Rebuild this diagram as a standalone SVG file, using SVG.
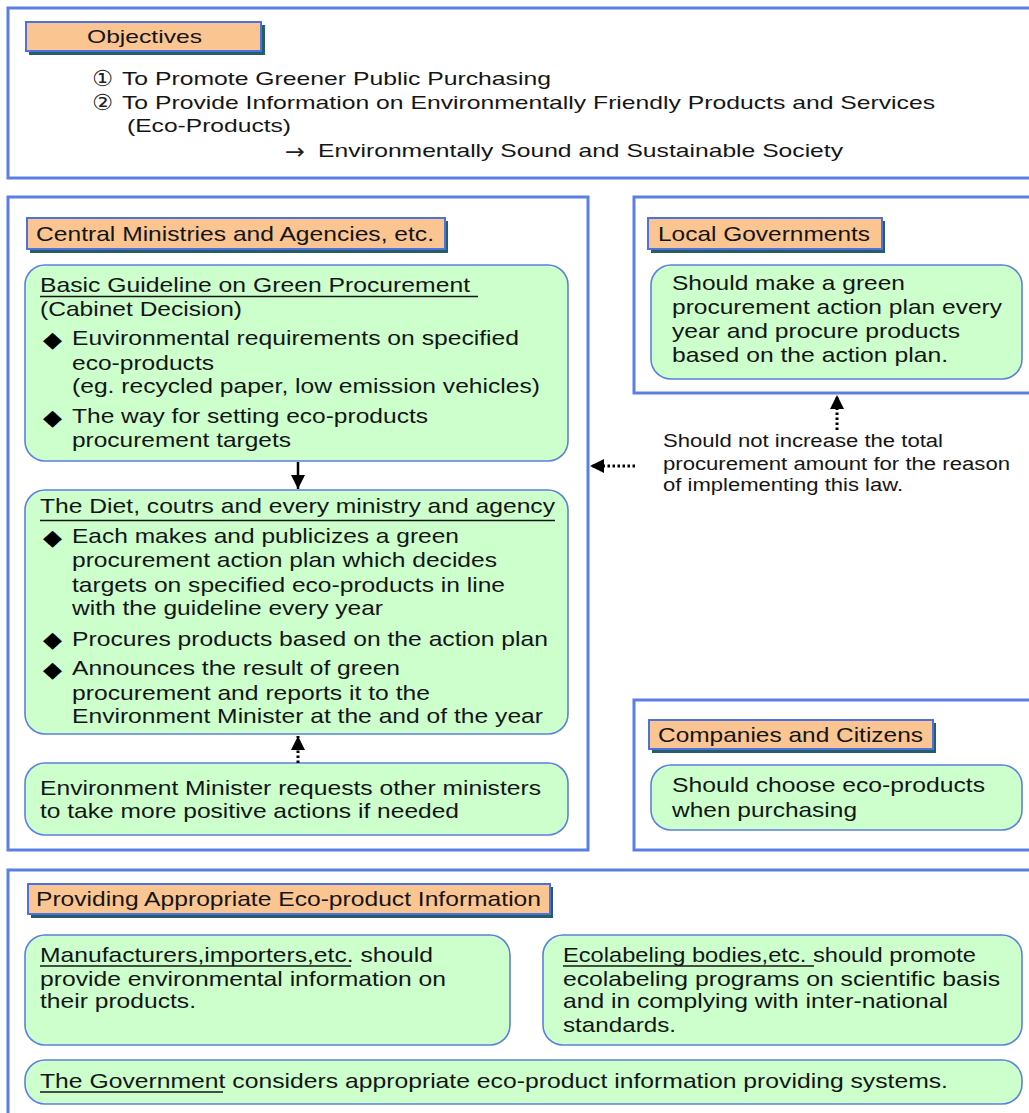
<svg xmlns="http://www.w3.org/2000/svg" width="1029" height="1113" viewBox="0 0 1029 1113">
<style>
.outer{fill:#fff;stroke:#5a7ee6;stroke-width:3}
.green{fill:#ccffcc;stroke:#5b80e2;stroke-width:1.6}
.lab{fill:#fbc591;stroke:#4d72e0;stroke-width:2}
.shadow{fill:#245f68}
.t{font-family:"Liberation Sans",Arial,sans-serif;font-size:21px;fill:#151515}
.s{font-size:18px}
.o{font-size:19px}
.c{font-family:"DejaVu Sans",sans-serif;font-size:22px;fill:#222}
.b{font-family:"DejaVu Sans",sans-serif;font-size:22px;fill:#000}
.ul{stroke:#151515;stroke-width:1.6}
.conn{stroke:#000;stroke-width:2.5;fill:none}
.dot{stroke:#000;stroke-width:3;fill:none;stroke-dasharray:2.5 2.5}
</style>
<defs>
<marker id="ah" markerUnits="userSpaceOnUse" markerWidth="16" markerHeight="16" refX="14" refY="7" orient="auto">
<path d="M0,0 L14,7 L0,14 Z" fill="#000"/>
</marker>
</defs>

<g id="objectives">
<rect class="outer" x="8" y="8" width="1030" height="170"/>
<rect class="shadow" x="29" y="25" width="236" height="30"/>
<rect class="lab" x="26" y="22" width="235" height="29"/>
<text class="t o" x="87" y="43" textLength="115" lengthAdjust="spacingAndGlyphs">Objectives</text>
<text class="c" x="92" y="86" textLength="21" lengthAdjust="spacingAndGlyphs">①</text>
<text class="t o" x="122" y="85" textLength="429" lengthAdjust="spacingAndGlyphs">To Promote Greener Public Purchasing</text>
<text class="c" x="92" y="110" textLength="21" lengthAdjust="spacingAndGlyphs">②</text>
<text class="t o" x="122" y="109" textLength="813" lengthAdjust="spacingAndGlyphs">To Provide Information on Environmentally Friendly Products and Services</text>
<text class="t o" x="127" y="132" textLength="164" lengthAdjust="spacingAndGlyphs">(Eco-Products)</text>
<text class="c" x="285" y="159" textLength="20" lengthAdjust="spacingAndGlyphs" fill="#555">→</text>
<text class="t o" x="318" y="157" textLength="525" lengthAdjust="spacingAndGlyphs">Environmentally Sound and Sustainable Society</text>
</g>

<g id="central">
<rect class="outer" x="8" y="197" width="580" height="653"/>
<rect class="shadow" x="30" y="221" width="418" height="32"/>
<rect class="lab" x="27" y="218" width="418" height="31"/>
<text class="t" x="36" y="241" textLength="398" lengthAdjust="spacingAndGlyphs">Central Ministries and Agencies, etc.</text>
</g>

<g id="guideline">
<rect class="green" x="25" y="265" width="543" height="196" rx="20"/>
<text class="t" x="40" y="292" textLength="430" lengthAdjust="spacingAndGlyphs">Basic Guideline on Green Procurement</text>
<line class="ul" x1="40" y1="296.5" x2="478" y2="296.5"/>
<text class="t" x="40" y="316" textLength="202" lengthAdjust="spacingAndGlyphs">(Cabinet Decision)</text>
<text class="b" x="43" y="347" textLength="19" lengthAdjust="spacingAndGlyphs">◆</text>
<text class="t" x="72" y="345" textLength="447" lengthAdjust="spacingAndGlyphs">Euvironmental requirements on specified</text>
<text class="t" x="72" y="370" textLength="142" lengthAdjust="spacingAndGlyphs">eco-products</text>
<text class="t" x="72" y="393" textLength="468" lengthAdjust="spacingAndGlyphs">(eg. recycled paper, low emission vehicles)</text>
<text class="b" x="43" y="425" textLength="19" lengthAdjust="spacingAndGlyphs">◆</text>
<text class="t" x="72" y="423" textLength="356" lengthAdjust="spacingAndGlyphs">The way for setting eco-products</text>
<text class="t" x="72" y="447" textLength="219" lengthAdjust="spacingAndGlyphs">procurement targets</text>
</g>

<g id="diet">
<rect class="green" x="25" y="490" width="543" height="244" rx="20"/>
<text class="t" x="40" y="513" textLength="515" lengthAdjust="spacingAndGlyphs">The Diet, coutrs and every ministry and agency</text>
<line class="ul" x1="40" y1="520.5" x2="555" y2="520.5"/>
<text class="b" x="43" y="545" textLength="19" lengthAdjust="spacingAndGlyphs">◆</text>
<text class="t" x="72" y="543" textLength="387" lengthAdjust="spacingAndGlyphs">Each makes and publicizes a green</text>
<text class="t" x="72" y="567" textLength="425" lengthAdjust="spacingAndGlyphs">procurement action plan which decides</text>
<text class="t" x="72" y="592" textLength="433" lengthAdjust="spacingAndGlyphs">targets on specified eco-products in line</text>
<text class="t" x="72" y="615" textLength="311" lengthAdjust="spacingAndGlyphs">with the guideline every year</text>
<text class="b" x="43" y="647" textLength="19" lengthAdjust="spacingAndGlyphs">◆</text>
<text class="t" x="72" y="646" textLength="476" lengthAdjust="spacingAndGlyphs">Procures products based on the action plan</text>
<text class="b" x="43" y="677" textLength="19" lengthAdjust="spacingAndGlyphs">◆</text>
<text class="t" x="72" y="675" textLength="328" lengthAdjust="spacingAndGlyphs">Announces the result of green</text>
<text class="t" x="72" y="700" textLength="358" lengthAdjust="spacingAndGlyphs">procurement and reports it to the</text>
<text class="t" x="72" y="723" textLength="471" lengthAdjust="spacingAndGlyphs">Environment Minister at the and of the year</text>
</g>

<g id="minister">
<rect class="green" x="25" y="763" width="543" height="72" rx="20"/>
<text class="t" x="40" y="795" textLength="501" lengthAdjust="spacingAndGlyphs">Environment Minister requests other ministers</text>
<text class="t" x="40" y="818" textLength="419" lengthAdjust="spacingAndGlyphs">to take more positive actions if needed</text>
</g>

<g id="local">
<rect class="outer" x="634" y="197" width="400" height="196"/>
<rect class="shadow" x="651" y="221" width="234" height="32"/>
<rect class="lab" x="648" y="218" width="234" height="31"/>
<text class="t" x="658" y="241" textLength="212" lengthAdjust="spacingAndGlyphs">Local Governments</text>
<rect class="green" x="651" y="265" width="371" height="114" rx="20"/>
<text class="t" x="672" y="290" textLength="233" lengthAdjust="spacingAndGlyphs">Should make a green</text>
<text class="t" x="672" y="314" textLength="330" lengthAdjust="spacingAndGlyphs">procurement action plan every</text>
<text class="t" x="672" y="338" textLength="288" lengthAdjust="spacingAndGlyphs">year and procure products</text>
<text class="t" x="672" y="362" textLength="276" lengthAdjust="spacingAndGlyphs">based on the action plan.</text>
</g>

<g id="note">
<text class="t s" x="663" y="447" textLength="280" lengthAdjust="spacingAndGlyphs">Should not increase the total</text>
<text class="t s" x="663" y="470" textLength="347" lengthAdjust="spacingAndGlyphs">procurement amount for the reason</text>
<text class="t s" x="663" y="491" textLength="240" lengthAdjust="spacingAndGlyphs">of implementing this law.</text>
</g>

<g id="companies">
<rect class="outer" x="634" y="700" width="400" height="150"/>
<rect class="shadow" x="652" y="723" width="284" height="30"/>
<rect class="lab" x="649" y="720" width="284" height="29"/>
<text class="t" x="658" y="742" textLength="265" lengthAdjust="spacingAndGlyphs">Companies and Citizens</text>
<rect class="green" x="651" y="765" width="371" height="65" rx="20"/>
<text class="t" x="672" y="792" textLength="313" lengthAdjust="spacingAndGlyphs">Should choose eco-products</text>
<text class="t" x="672" y="817" textLength="185" lengthAdjust="spacingAndGlyphs">when purchasing</text>
</g>

<g id="providing">
<rect class="outer" x="8" y="870" width="1030" height="260"/>
<rect class="shadow" x="31" y="887" width="522" height="31"/>
<rect class="lab" x="28" y="884" width="522" height="30"/>
<text class="t" x="36" y="906" textLength="505" lengthAdjust="spacingAndGlyphs">Providing Appropriate Eco-product Information</text>
</g>

<g id="manufacturers">
<rect class="green" x="25" y="935" width="485" height="110" rx="20"/>
<text class="t" x="40" y="962" font-size="20" textLength="393" lengthAdjust="spacingAndGlyphs">Manufacturers,importers,etc. should</text>
<line class="ul" x1="40" y1="966" x2="351" y2="966"/>
<text class="t" x="40" y="986" font-size="20" textLength="406" lengthAdjust="spacingAndGlyphs">provide environmental information on</text>
<text class="t" x="40" y="1008" font-size="20" textLength="156" lengthAdjust="spacingAndGlyphs">their products.</text>
</g>

<g id="ecolabeling">
<rect class="green" x="543" y="935" width="479" height="110" rx="20"/>
<text class="t" x="563" y="962" font-size="20" textLength="413" lengthAdjust="spacingAndGlyphs">Ecolabeling bodies,etc. should promote</text>
<line class="ul" x1="563" y1="966" x2="814" y2="966"/>
<text class="t" x="563" y="986" font-size="20" textLength="437" lengthAdjust="spacingAndGlyphs">ecolabeling programs on scientific basis</text>
<text class="t" x="563" y="1008" font-size="20" textLength="385" lengthAdjust="spacingAndGlyphs">and in complying with inter-national</text>
<text class="t" x="563" y="1032" font-size="20" textLength="113" lengthAdjust="spacingAndGlyphs">standards.</text>
</g>

<g id="government">
<rect class="green" x="25" y="1060" width="997" height="44" rx="20"/>
<text class="t" x="40" y="1088" font-size="20" textLength="908" lengthAdjust="spacingAndGlyphs">The Government considers appropriate eco-product information providing systems.</text>
<line class="ul" x1="40" y1="1092" x2="223" y2="1092"/>
</g>

<g id="connectors">
<line class="conn" x1="298" y1="462" x2="298" y2="489" marker-end="url(#ah)"/>
<line class="dot" x1="298" y1="763" x2="298" y2="736" marker-end="url(#ah)"/>
<line class="dot" x1="837" y1="430" x2="837" y2="395" marker-end="url(#ah)"/>
<line class="dot" x1="635" y1="466" x2="590" y2="466" marker-end="url(#ah)"/>
</g>
</svg>
